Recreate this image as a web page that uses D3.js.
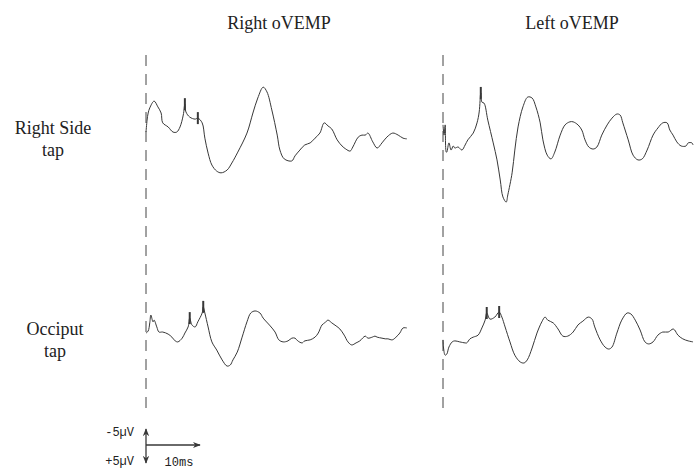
<!DOCTYPE html>
<html>
<head>
<meta charset="utf-8">
<script src="https://cdn.jsdelivr.net/npm/d3@7"></script>
<style>
  body { margin: 0; background: #fff; }
  svg { display: block; }
</style>
</head>
<body>
<svg id="chart-svg" width="694" height="470"></svg>
<script>
// column / row titles
const columnTitles = ['Right oVEMP', 'Left oVEMP']
const rowTitles = [['Right Side', 'tap'], ['Occiput', 'tap']]

// traces: time (ms after tap) and amplitude (µV, negative up)
const rightSideRightT = [0, 0.2, 0.4, 0.7, 1.5, 2.2, 2.8, 3.1, 4.1, 5.0, 5.7, 6.3, 6.9, 7.2, 7.4, 8.1, 9.1, 9.6, 10.4, 10.9, 11.5, 12.2, 13.1, 13.9, 15.0, 15.9, 17.0, 18.7, 19.8, 20.7, 21.7, 22.4, 23.3, 24.3, 24.8, 25.6, 27.0, 27.6, 28.5, 29.4, 30.4, 31.3, 32.2, 33.0, 33.7, 34.4, 35.4, 36.3, 37.0, 37.8, 38.3, 39.3, 40.0, 40.6, 41.1, 42.0, 42.8, 43.7, 44.6, 45.7, 46.7, 47.6, 48.3]
const rightSideRightV = [0.6, -2.9, -5.0, -6.5, -8.5, -6.8, -5.0, -2.1, -0.9, 0.6, 0.6, -0.9, -4.4, -7.6, -5.3, -3.8, -3.2, -3.5, -2.1, 2.4, 6.8, 10.3, 12.1, 12.6, 11.8, 9.7, 6.5, 0.9, -5.0, -9.4, -12.6, -11.2, -5.9, 1.5, 5.9, 8.5, 9.1, 7.6, 5.9, 4.4, 3.8, 2.4, 0.9, -2.1, -1.2, -0.3, 2.9, 4.7, 5.6, 6.2, 5.0, 2.1, 1.5, 1.5, 0.9, 3.5, 5.3, 3.8, 2.1, 0.9, 1.5, 2.4, 2.6]
const rightSideRightMarks = [7.2, 9.6]

const rightSideLeftT = [0, 0.2, 0.4, 0.6, 0.7, 1.1, 1.5, 1.9, 2.2, 2.8, 3.5, 4.1, 4.6, 5.6, 6.3, 6.7, 7.0, 7.2, 7.6, 8.3, 9.3, 10.0, 10.6, 11.1, 11.7, 12.0, 12.8, 13.3, 13.9, 14.8, 15.7, 16.5, 17.2, 18.0, 18.5, 19.3, 20.0, 20.7, 21.7, 22.6, 23.5, 24.1, 25.0, 25.7, 26.3, 27.0, 27.8, 28.5, 29.4, 30.4, 31.3, 32.2, 32.8, 33.3, 34.3, 35.2, 36.1, 36.9, 37.8, 38.9, 39.8, 40.7, 41.5, 42.0, 42.6, 43.3, 44.1, 45.0, 45.4, 46.1, 46.3]
const rightSideLeftV = [-1.5, 1.5, -1.5, 6.5, 6.5, 3.8, 5.9, 4.7, 5.3, 5.0, 5.9, 4.4, 2.9, 0.9, -2.1, -5.3, -10.9, -8.2, -7.9, -2.9, 3.8, 8.8, 14.7, 19.7, 21.2, 19.1, 12.6, 5.9, -0.9, -6.8, -9.7, -9.4, -6.8, -2.1, 2.9, 7.4, 8.5, 6.5, 1.5, -1.5, -2.4, -2.4, -1.5, 0, 2.9, 5.0, 5.6, 5.0, 1.5, -1.5, -3.5, -4.7, -4.4, -2.1, 2.9, 7.4, 8.8, 8.5, 5.9, 1.5, -0.6, -2.1, -2.1, 0, 1.5, 3.5, 4.7, 4.7, 3.8, 3.8, 4.4]
const rightSideLeftMarks = [7.0]

const occiputRightT = [0, 0.4, 0.7, 0.9, 1.3, 1.5, 2.0, 2.4, 3.1, 4.1, 4.8, 5.4, 5.9, 6.7, 7.2, 7.8, 8.1, 8.5, 9.1, 9.6, 10.4, 10.6, 10.9, 11.5, 12.2, 13.1, 14.1, 15.0, 15.6, 16.1, 16.9, 17.8, 18.7, 19.4, 20.2, 21.1, 21.7, 23.0, 23.9, 24.6, 25.4, 26.3, 27.0, 27.6, 28.1, 28.9, 29.4, 30.4, 31.3, 31.9, 32.6, 33.1, 33.7, 34.4, 35.2, 35.9, 36.7, 37.4, 38.1, 38.9, 39.6, 40.6, 41.1, 41.9, 42.4, 42.8, 43.7, 44.3, 44.8, 45.6, 46.3, 47.0, 47.6, 48.3]
const occiputRightV = [0.9, 0.3, -2.1, -4.4, -2.4, -2.9, -0.9, 0.6, 0.6, 1.2, 2.1, 3.2, 3.5, 2.4, 0.9, -0.9, -3.5, -1.5, -0.9, -2.4, -5.0, -6.8, -5.0, -0.9, 3.5, 5.9, 8.8, 10.6, 10.3, 8.8, 6.5, 2.1, -2.4, -5.0, -5.6, -5.0, -3.5, -1.2, 0.6, 2.9, 3.5, 3.2, 2.4, 2.4, 3.2, 3.8, 3.2, 2.9, 2.1, 0.9, -1.5, -2.1, -2.9, -2.1, -1.2, -0.3, 1.5, 3.5, 4.4, 3.8, 3.2, 1.8, 2.4, 2.1, 1.8, 2.1, 2.4, 2.6, 2.6, 2.9, 2.1, 0.9, -0.6, -0.6]
const occiputRightMarks = [8.1, 10.6]

const occiputLeftT = [0, 0.1, 0.4, 0.7, 1.1, 1.7, 2.2, 3.1, 4.1, 4.4, 5.0, 5.6, 6.5, 7.2, 7.8, 8.1, 8.7, 9.6, 10.4, 10.9, 11.5, 12.4, 13.3, 14.3, 15.0, 15.6, 16.5, 17.4, 18.3, 18.9, 19.4, 20.4, 21.3, 22.2, 23.1, 24.1, 25.0, 25.9, 26.9, 27.6, 28.1, 29.1, 30.0, 30.7, 31.3, 32.2, 33.1, 34.1, 34.8, 35.6, 36.5, 37.4, 38.1, 38.9, 39.8, 40.7, 41.7, 42.6, 42.9, 43.5, 44.4, 45.4, 46.3]
const occiputLeftV = [2.9, 5.3, 7.4, 7.1, 5.0, 3.5, 3.2, 3.5, 3.8, 3.8, 2.6, 2.1, 1.5, -0.6, -2.9, -5.0, -3.2, -3.8, -5.3, -3.8, -0.9, 3.5, 7.4, 9.4, 9.7, 8.8, 5.3, 0.9, -2.4, -3.8, -2.9, -2.1, -0.3, 1.8, 1.8, 0.6, -1.5, -2.6, -3.8, -3.2, -0.9, 2.9, 5.0, 5.6, 5.0, 0.9, -2.9, -5.0, -4.7, -2.9, 0, 3.5, 4.1, 3.5, 1.5, 0.6, 0.6, -0.3, 0, 1.5, 2.6, 3.2, 3.5]
const occiputLeftMarks = [8.1, 10.4]

// scale bar
const scaleBarMs = 10
const scaleBarUv = [-5, 5]
const scaleBarLabels = ['-5\u00b5V', '+5\u00b5V', '10ms']

const traces = [
    {row: 0, col: 0, t: rightSideRightT, v: rightSideRightV, marks: rightSideRightMarks},
    {row: 0, col: 1, t: rightSideLeftT, v: rightSideLeftV, marks: rightSideLeftMarks},
    {row: 1, col: 0, t: occiputRightT, v: occiputRightV, marks: occiputRightMarks},
    {row: 1, col: 1, t: occiputLeftT, v: occiputLeftV, marks: occiputLeftMarks}
]

const svg = d3.select('#chart-svg')
const ink = '#383838'

// 10 ms = 54 px, 10 µV = 34 px
const colStart = [146, 443]
const rowBase = [130, 330]
const xScales = colStart.map(x0 => d3.scaleLinear().domain([0, 10]).range([x0, x0 + 54]))
const yScales = rowBase.map(y0 => d3.scaleLinear().domain([-5, 5]).range([y0 - 17, y0 + 17]))

// stimulus onset lines
colStart.forEach((x0, i) => {
    svg.append('line')
        .attr('x1', x0).attr('x2', x0)
        .attr('y1', 55).attr('y2', i === 0 ? 413 : 416)
        .attr('stroke', '#444')
        .attr('stroke-width', 1)
        .attr('stroke-dasharray', '11,8')
})

// titles
const colCenters = [279, 572]
columnTitles.forEach((title, i) => {
    svg.append('text')
        .attr('x', colCenters[i]).attr('y', 29)
        .attr('text-anchor', 'middle')
        .style('font-family', '"Liberation Serif", "Times New Roman", serif')
        .style('font-size', '18px')
        .attr('fill', '#222')
        .text(title)
})

const rowLabelY = [134, 335]
rowTitles.forEach((lines, i) => {
    lines.forEach((line, j) => {
        svg.append('text')
            .attr('x', i === 0 ? 53 : 55)
            .attr('y', rowLabelY[i] + j * 22)
            .attr('text-anchor', 'middle')
            .style('font-family', '"Liberation Serif", "Times New Roman", serif')
            .style('font-size', '18px')
            .attr('fill', '#222')
            .text(line)
    })
})

// waveforms
traces.forEach(tr => {
    const x = xScales[tr.col]
    const y = yScales[tr.row]
    const pts = tr.t.map((t, i) => [t, tr.v[i]])
    const line = d3.line()
        .x(d => x(d[0]))
        .y(d => y(d[1]))
        .curve(d3.curveCatmullRom.alpha(0.5))

    svg.append('path')
        .datum(pts)
        .attr('fill', 'none')
        .attr('stroke', ink)
        .attr('stroke-width', 1)
        .attr('stroke-linejoin', 'round')
        .attr('d', line)

    // latency markers
    tr.marks.forEach(m => {
        const idx = tr.t.indexOf(m)
        const yv = y(tr.v[idx])
        svg.append('line')
            .attr('x1', x(m)).attr('x2', x(m))
            .attr('y1', yv - 6).attr('y2', yv + 6)
            .attr('stroke', ink)
            .attr('stroke-width', 2)
    })
})

// scale bar with arrows
const defs = svg.append('defs')
defs.append('marker')
    .attr('id', 'arrow')
    .attr('viewBox', '0 0 10 10')
    .attr('refX', 9).attr('refY', 5)
    .attr('markerWidth', 8).attr('markerHeight', 8)
    .attr('markerUnits', 'userSpaceOnUse')
    .attr('orient', 'auto-start-reverse')
    .append('path')
    .attr('d', 'M0,1 L10,5 L0,9 L3,5 Z')
    .attr('fill', ink)

const barX = xScales[0]
const barY = d3.scaleLinear().domain([-5, 5]).range([429, 463])
const barMid = 445

svg.append('line')
    .attr('x1', barX(0)).attr('x2', barX(0))
    .attr('y1', barY(scaleBarUv[0])).attr('y2', barY(scaleBarUv[1]))
    .attr('stroke', ink).attr('stroke-width', 1.3)
    .attr('marker-start', 'url(#arrow)')
    .attr('marker-end', 'url(#arrow)')

svg.append('line')
    .attr('x1', barX(0)).attr('x2', barX(scaleBarMs))
    .attr('y1', barMid).attr('y2', barMid)
    .attr('stroke', ink).attr('stroke-width', 1.3)
    .attr('marker-end', 'url(#arrow)')

const mono = '"Liberation Mono", "DejaVu Sans Mono", monospace'
svg.append('text')
    .attr('x', barX(0) - 12).attr('y', barY(scaleBarUv[0]) + 7)
    .attr('text-anchor', 'end')
    .style('font-family', mono).style('font-size', '12px')
    .attr('fill', '#222')
    .text(scaleBarLabels[0])
svg.append('text')
    .attr('x', barX(0) - 12).attr('y', barY(scaleBarUv[1]) + 2)
    .attr('text-anchor', 'end')
    .style('font-family', mono).style('font-size', '12px')
    .attr('fill', '#222')
    .text(scaleBarLabels[1])
svg.append('text')
    .attr('x', barX(scaleBarMs / 2) + 6).attr('y', 466)
    .attr('text-anchor', 'middle')
    .style('font-family', mono).style('font-size', '12px')
    .attr('fill', '#222')
    .text(scaleBarLabels[2])
</script>
</body>
</html>
